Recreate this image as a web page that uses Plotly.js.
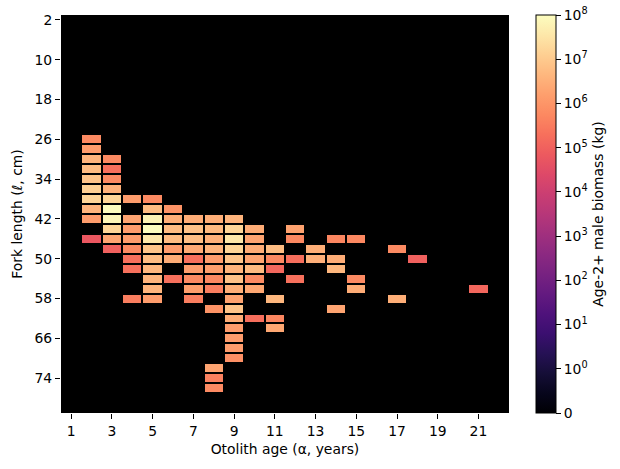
<!DOCTYPE html>
<html>
<head>
<meta charset="utf-8">
<script src="https://cdn.plot.ly/plotly-3.0.1.min.js"></script>
<style>
html,body{margin:0;padding:0;background:#fff;}
#chart{width:620px;height:469px;}
</style>
</head>
<body>
<div id="chart"></div>
<script>
// Axis categories
var ages = [1,2,3,4,5,6,7,8,9,10,11,12,13,14,15,16,17,18,19,20,21,22];
var lengths = [];
for (var L = 2; L <= 80; L += 2) lengths.push(L);
var xTickVals = [1,3,5,7,9,11,13,15,17,19,21];
var yTickVals = [2,10,18,26,34,42,50,58,66,74];
var cbTickLabels = ['0','10<sup>0</sup>','10<sup>1</sup>','10<sup>2</sup>','10<sup>3</sup>','10<sup>4</sup>','10<sup>5</sup>','10<sup>6</sup>','10<sup>7</sup>','10<sup>8</sup>'];

// Non-empty cells: otolith age, fork length (cm), biomass (kg)
var cellAge = [
  2,2,2,2,2,2,2,2,2,2,
  3,3,3,3,3,3,3,3,3,3,
  4,4,4,4,4,4,4,4,
  5,5,5,5,5,5,5,5,5,5,5,
  6,6,6,6,6,6,6,
  7,7,7,7,7,7,7,7,7,
  8,8,8,8,8,8,8,8,8,8,8,8,
  9,9,9,9,9,9,9,9,9,9,9,9,9,9,9,
  10,10,10,10,10,10,10,10,
  11,11,11,11,11,11,
  12,12,12,12,
  13,13,
  14,14,14,14,
  15,15,15,
  17,17,
  18,
  21
];
var cellLength = [
  26,28,30,32,34,36,38,40,42,46,
  30,32,34,36,38,40,42,44,46,48,
  38,42,44,46,48,50,52,58,
  38,40,42,44,46,48,50,52,54,56,58,
  40,42,44,46,48,50,54,
  42,44,46,48,50,52,54,56,58,
  42,44,46,48,50,52,54,56,60,72,74,76,
  42,44,46,48,50,52,54,56,58,60,62,64,66,68,70,
  44,46,48,50,52,54,56,62,
  48,50,52,58,62,64,
  44,46,50,54,
  48,50,
  46,50,52,60,
  46,54,56,
  48,58,
  50,
  56
];
var cellBiomass = [
  6e5,1.4e6,4e6,5.6e6,8e6,1.3e7,1.6e7,4e6,1.4e6,6e4,
  6e5,2e5,6e5,3.5e6,1.6e7,9e7,7e7,1.6e7,2e6,1e5,
  1.4e6,2e6,1.4e6,1.4e6,6e5,2e5,2e5,3.5e5,
  6e5,5.6e6,6e7,9.5e7,3.5e7,8e6,5.6e6,4.5e6,4e6,4e6,1.4e6,
  9e5,3e6,5.6e6,5.6e6,1.4e6,2.8e6,2e5,
  2.8e6,7e6,6e6,2.5e6,2e5,1.4e6,6e5,1.5e6,3.5e5,
  3e6,5e6,3.5e6,4e6,1.4e6,1.5e6,5.5e5,3.5e5,9e5,2e6,4e5,6e5,
  4e6,1.6e7,3.5e7,1.6e7,8e6,3.8e6,7e6,3e6,1.8e6,8e6,2.8e6,1.4e6,1.4e6,1.4e6,8e5,
  2.8e6,2e6,2.8e6,2e6,5e6,6e5,2.2e6,1.8e5,
  5.6e6,5.5e5,1.3e5,4.5e6,5e5,2.2e6,
  1.8e6,5.5e5,1.8e5,2e5,
  3e6,3.2e6,
  5e5,2.8e6,4.5e6,2e6,
  5.5e5,6e5,2.8e6,
  6e5,3e6,
  1e5,
  1.3e5
];

// symlog-style transform (linear below 1, log above)
function symlog(v){ return v <= 1 ? v : 1 + Math.log10(v); }

var z = lengths.map(function(){ return ages.map(function(){ return null; }); });
var zRaw = lengths.map(function(){ return ages.map(function(){ return null; }); });
for (var i = 0; i < cellAge.length; i++) {
  var r = lengths.indexOf(cellLength[i]);
  var c = ages.indexOf(cellAge[i]);
  z[r][c] = symlog(cellBiomass[i]);
  zRaw[r][c] = cellBiomass[i];
}

var magmaHex = ['#000004','#07061c','#150e37','#261155','#3b0f70','#4f127b','#641a80','#782281','#8c2981','#a1307e','#b73779','#ca3e72','#de4968','#ed5a5f','#f7705c','#fc8961','#fe9f6d','#feb77e','#fecf92','#fde7a9','#fcfdbf'];
var magma = magmaHex.map(function(h, k){ return [k/(magmaHex.length-1), h]; });

var font = {family: 'DejaVu Sans', size: 13.9, color: '#000'};

var trace = {
  type: 'heatmap',
  x: ages,
  y: lengths,
  z: z,
  customdata: zRaw,
  zmin: 0,
  zmax: 9,
  colorscale: magma,
  xgap: 2,
  ygap: 2,
  hoverongaps: false,
  hovertemplate: 'age %{x}, length %{y}: %{customdata:.3g} kg<extra></extra>',
  colorbar: {
    thickness: 20,
    len: 1,
    lenmode: 'fraction',
    x: 1.06,
    xanchor: 'left',
    xpad: 0,
    y: 0.5,
    yanchor: 'middle',
    ypad: 0,
    outlinewidth: 1,
    outlinecolor: '#000',
    tickmode: 'array',
    tickvals: [0,1,2,3,4,5,6,7,8,9],
    ticktext: cbTickLabels,
    ticks: 'outside',
    ticklen: 5,
    tickwidth: 1,
    tickcolor: '#000',
    tickfont: font,
    title: {text: 'Age-2+ male biomass (kg)', side: 'right', font: font}
  }
};

var layout = {
  width: 620,
  height: 469,
  margin: {l: 61, r: 111, t: 15, b: 56},
  paper_bgcolor: '#ffffff',
  plot_bgcolor: '#000000',
  font: font,
  xaxis: {
    range: [0.5, 22.5],
    tickmode: 'array',
    tickvals: xTickVals,
    ticks: 'outside',
    ticklen: 5,
    tickwidth: 1,
    tickcolor: '#000',
    showgrid: false,
    zeroline: false,
    showline: false,
    tickfont: font,
    title: {text: 'Otolith age (α, years)', font: font, standoff: 6}
  },
  yaxis: {
    range: [81, 1],
    tickmode: 'array',
    tickvals: yTickVals,
    ticks: 'outside',
    ticklen: 5,
    tickwidth: 1,
    tickcolor: '#000',
    showgrid: false,
    zeroline: false,
    showline: false,
    tickfont: font,
    title: {text: 'Fork length (ℓ, cm)', font: font, standoff: 8}
  }
};

Plotly.newPlot('chart', [trace], layout, {displayModeBar: false, staticPlot: true});
</script>
</body>
</html>
